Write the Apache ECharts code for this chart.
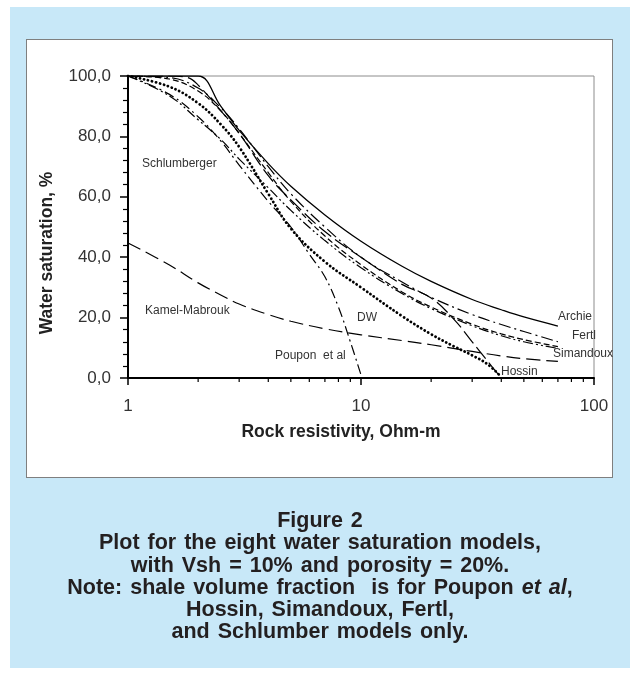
<!DOCTYPE html>
<html>
<head>
<meta charset="utf-8">
<title>Water saturation models</title>
<script src="https://cdn.jsdelivr.net/npm/echarts@6/dist/echarts.min.js"></script>
<style>
    html, body { margin: 0; padding: 0; background: #fff; }
    #page { position: relative; width: 637px; height: 677px; overflow: hidden; font-family: 'Liberation Sans', Arial, sans-serif; }
    #panel { position: absolute; left: 10px; top: 7px; width: 620px; height: 661px; background: #c8e8f8; }
    #box { position: absolute; left: 26px; top: 39px; width: 585px; height: 437px; background: #fff; border: 1px solid #7f7f7f; }
    #chart { position: absolute; left: 0; top: 0; width: 637px; height: 677px; }
    #caption { position: absolute; left: 10px; width: 620px; top: 509px; text-align: center; font-weight: bold; font-size: 21.5px; word-spacing: 2px; line-height: 22.3px; color: #231f20; }
</style>
</head>
<body>
<div id="page">
    <div id="panel"></div>
    <div id="box"></div>
    <div id="chart"></div>
    <div id="caption">
        Figure 2<br>
        Plot for the eight water saturation models,<br>
        with Vsh = 10% and porosity = 20%.<br>
        Note: shale volume fraction &nbsp;is for Poupon <i>et al</i>,<br>
        Hossin, Simandoux, Fertl,<br>
        and Schlumber models only.
    </div>
</div>
<script>
/* ===== Data ===== */
// rock resistivity, Ohm-m
const rt = [1, 1.5, 2, 2.5, 3, 4, 5, 7, 10, 15, 20, 30, 40, 50, 70];
// water saturation, %
const archie       = [100, 100, 100, 90, 82, 71, 63.5, 54, 45.3, 37, 32, 26, 22.6, 20.2, 17.2];
const fertl        = [100, 99.5, 96, 89.5, 82.5, 70, 61, 50, 40, 31.8, 26.7, 21, 17.7, 15.4, 12];
const simandoux    = [100, 99, 95, 88.5, 81, 68, 58.5, 47, 37.5, 28.5, 23.5, 17.8, 14.6, 12.7, 10.4];
const schlumberger = [100, 93.5, 85.5, 79, 72.5, 63, 55.5, 45.5, 36.5, 28, 23, 17.3, 14, 12, 9.8];
const kamelMabrouk = [44.7, 37.5, 31.5, 27.5, 24.5, 21, 18.8, 16.3, 14.3, 12.4, 11, 8.8, 7.3, 6.4, 5.5];

const rtHossin = [1, 1.5, 1.8, 2, 2.5, 3, 4, 5, 7, 10, 15, 20, 25, 30, 35, 40];
const hossin   = [100, 100, 99.5, 97, 88.5, 81, 67, 59, 48.5, 40, 31, 26.5, 19.5, 12, 5.5, 0];

const rtDW = [1, 1.5, 2, 2.5, 3, 4, 5, 7, 10, 15, 20, 25, 30, 35, 40];
const dw   = [100, 96.5, 91, 84, 76.5, 61, 49.5, 38.5, 30, 20.5, 14.5, 10.5, 7.5, 4.5, 0.3];

const rtPoupon = [1, 1.5, 2, 2.5, 3, 4, 5, 6, 7, 8, 9, 10];
const poupon   = [100, 94, 86.5, 78.5, 70.5, 58.5, 50, 41, 33.5, 23.5, 12, 1];

// axis ticks
const yTicks = [0, 20, 40, 60, 80, 100];
const xMinorTicks = [2, 3, 4, 5, 6, 7, 8, 9, 20, 30, 40, 50, 60, 70, 80, 90];

const FONT = "'Liberation Sans', Arial, sans-serif";

function zip(xs, ys) {
    return xs.map((x, i) => [x, ys[i]]);
}

function curve(name, xs, ys, type, width) {
    return {
        name: name,
        type: 'line',
        data: zip(xs, ys),
        smooth: 0.4,
        symbol: 'none',
        silent: true,
        lineStyle: { color: '#000', width: width || 1.2, type: type }
    };
}

function label(text, x, y) {
    return {
        type: 'text',
        x: x,
        y: y,
        style: { text: text, fill: '#333', font: '12px ' + FONT, textVerticalAlign: 'middle' }
    };
}

const chart = echarts.init(document.getElementById('chart'));

const dwSeries = curve('DW', rtDW, dw, [0.1, 4], 2.8);
dwSeries.lineStyle.cap = 'round';

const option = {
    animation: false,
    backgroundColor: 'transparent',
    grid: {
        left: 128,
        right: 43,
        top: 76,
        bottom: 299,
        show: true,
        borderColor: '#8c8c8c',
        borderWidth: 1,
        backgroundColor: 'transparent'
    },
    xAxis: {
        type: 'log',
        logBase: 10,
        min: 1,
        max: 100,
        axisLine: { show: true, onZero: false, lineStyle: { color: '#000', width: 2 } },
        axisTick: { show: true, length: 7, lineStyle: { color: '#000', width: 1.5 } },
        splitLine: { show: false },
        axisLabel: { color: '#333', fontSize: 17, fontFamily: FONT, margin: 20 }
    },
    yAxis: {
        type: 'value',
        min: 0,
        max: 100,
        interval: 20,
        axisLine: { show: true, onZero: false, lineStyle: { color: '#000', width: 2 } },
        axisTick: { show: true, length: 8, lineStyle: { color: '#000', width: 1.5 } },
        minorTick: { show: true, splitNumber: 5, length: 5, lineStyle: { color: '#000', width: 1.2 } },
        splitLine: { show: false },
        axisLabel: {
            color: '#333',
            fontSize: 17,
            fontFamily: FONT,
            margin: 17,
            formatter: v => yTicks.includes(v) ? v.toFixed(1).replace('.', ',') : ''
        }
    },
    graphic: [
        label('Schlumberger', 142, 164),
        label('Kamel-Mabrouk', 145, 311),
        label('Poupon  et al', 275, 356),
        label('DW', 357, 318),
        label('Archie', 558, 317),
        label('Fertl', 572, 336),
        label('Simandoux', 553, 354),
        label('Hossin', 501, 372),
        {
            type: 'text',
            x: 341,
            y: 432,
            style: { text: 'Rock resistivity, Ohm-m', fill: '#222', font: 'bold 17.5px ' + FONT, textAlign: 'center', textVerticalAlign: 'middle' }
        },
        {
            type: 'text',
            x: 47,
            y: 253,
            rotation: Math.PI / 2,
            style: { text: 'Water saturation, %', fill: '#222', font: 'bold 17.5px ' + FONT, textAlign: 'center', textVerticalAlign: 'middle' }
        }
    ],
    series: [
        curve('Archie', rt, archie, 'solid', 1.3),
        curve('Fertl', rt, fertl, [12, 4, 2, 4]),
        curve('Simandoux', rt, simandoux, [6, 3]),
        curve('Schlumberger', rt, schlumberger, [10, 3, 2, 3, 2, 3]),
        curve('Kamel-Mabrouk', rt, kamelMabrouk, [14, 6]),
        curve('Hossin', rtHossin, hossin, [15, 5]),
        dwSeries,
        curve('Poupon et al', rtPoupon, poupon, [10, 4, 2, 4]),
        {
            // minor ticks of the log axis
            type: 'custom',
            clip: false,
            silent: true,
            data: xMinorTicks.map(v => [v, 0]),
            renderItem: (params, api) => {
                const p = api.coord([api.value(0), api.value(1)]);
                return {
                    type: 'line',
                    shape: { x1: p[0], y1: p[1], x2: p[0], y2: p[1] + 4 },
                    style: { stroke: '#000', lineWidth: 1.2 }
                };
            }
        }
    ]
};

chart.setOption(option);
window.addEventListener('resize', () => chart.resize());
</script>
</body>
</html>
